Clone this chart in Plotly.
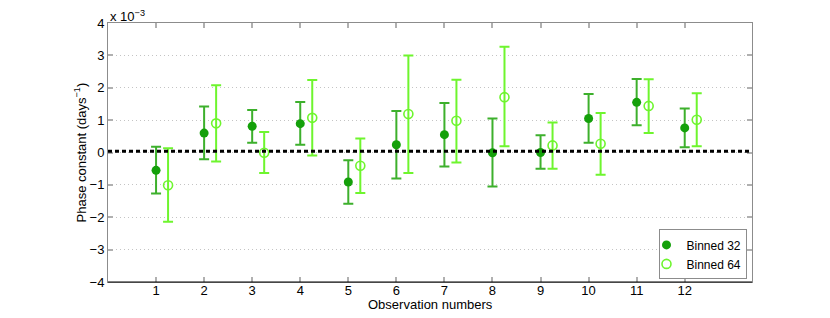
import plotly.graph_objects as go

obs = list(range(1, 13))
offset64 = 0.25
ref_line = 0.04  # x 1e-3

b32_val = [-0.55, 0.60, 0.81, 0.89, -0.91, 0.24, 0.55, -0.01, 0.00, 1.05, 1.55, 0.76]
b32_hi  = [0.18, 1.42, 1.31, 1.56, -0.24, 1.28, 1.53, 1.05, 0.53, 1.81, 2.27, 1.36]
b32_lo  = [-1.27, -0.21, 0.30, 0.24, -1.58, -0.80, -0.43, -1.05, -0.50, 0.30, 0.84, 0.16]

b64_val = [-1.01, 0.90, -0.01, 1.07, -0.41, 1.19, 0.98, 1.71, 0.22, 0.27, 1.44, 1.01]
b64_hi  = [0.13, 2.08, 0.63, 2.24, 0.43, 3.00, 2.25, 3.27, 0.93, 1.22, 2.26, 1.83]
b64_lo  = [-2.14, -0.28, -0.63, -0.09, -1.25, -0.63, -0.31, 0.19, -0.50, -0.69, 0.60, 0.19]

ytick_vals = [-4, -3, -2, -1, 0, 1, 2, 3, 4]

C32_M = "#14a00a"
C32_E = "#3db02c"
C64 = "#6ef52e"
FONT = "Liberation Sans, Arial, Helvetica, sans-serif"

fig = go.Figure()
fig.add_trace(go.Scatter(
    x=obs, y=b32_val, mode="markers", name="Binned 32",
    marker=dict(symbol="circle", size=9, color=C32_M, line=dict(width=0)),
    error_y=dict(type="data", symmetric=False,
                 array=[h - v for h, v in zip(b32_hi, b32_val)],
                 arrayminus=[v - l for v, l in zip(b32_val, b32_lo)],
                 color=C32_E, thickness=2, width=5),
))
fig.add_trace(go.Scatter(
    x=[o + offset64 for o in obs], y=b64_val, mode="markers", name="Binned 64",
    marker=dict(symbol="circle-open", size=9, color=C64, line=dict(width=1.6)),
    error_y=dict(type="data", symmetric=False,
                 array=[h - v for h, v in zip(b64_hi, b64_val)],
                 arrayminus=[v - l for v, l in zip(b64_val, b64_lo)],
                 color=C64, thickness=2, width=5),
))

fig.add_hline(y=ref_line, line=dict(color="black", width=3, dash="4px,3px"), layer="above")

# black bottom axis line
fig.add_shape(type="line", xref="paper", yref="paper", x0=0, x1=1, y0=0, y1=0,
              line=dict(color="black", width=1))

fig.update_xaxes(
    range=[0, 13.4], tickvals=obs, ticktext=[str(o) for o in obs],
    ticks="inside", ticklen=5, tickcolor="#b0b0b0", tickwidth=2,
    showline=True, linecolor="#8c8c8c", linewidth=1, mirror="allticks",
    showgrid=False, zeroline=False, automargin=False, ticklabelstandoff=-4,
    tickfont=dict(size=13, color="black"),
)
fig.update_yaxes(
    range=[-4, 4], tickvals=ytick_vals, ticktext=[str(v).replace("-", "\u2212") for v in ytick_vals],
    ticks="inside", ticklen=5, tickcolor="#b0b0b0", tickwidth=2,
    showline=True, linecolor="#8c8c8c", linewidth=1, mirror="allticks",
    showgrid=True, gridcolor="#c4c4c4", griddash="1px,3px", gridwidth=1, zeroline=False,
    automargin=False,
    tickfont=dict(size=13, color="black"),
)

fig.add_annotation(xref="paper", yref="paper", x=0, y=1, xanchor="left", yanchor="bottom",
                   yshift=-3, showarrow=False, text="x 10<sup>\u22123</sup>",
                   font=dict(size=13, color="black", family=FONT))
fig.add_annotation(xref="paper", yref="paper", x=0.5, y=0, xanchor="center", yanchor="middle",
                   yshift=-22, showarrow=False, text="Observation numbers",
                   font=dict(size=13, color="black", family=FONT))
fig.add_annotation(xref="paper", yref="paper", x=0, y=0.5, xanchor="center", yanchor="middle",
                   xshift=-28, textangle=-90, showarrow=False,
                   text="Phase constant (days<sup>\u22121</sup>)",
                   font=dict(size=13, color="black", family=FONT))

fig.update_layout(
    width=830, height=318,
    margin=dict(l=108, r=78, t=23, b=36),
    paper_bgcolor="white", plot_bgcolor="white",
    font=dict(family=FONT, size=13, color="black"),
    showlegend=True,
    legend=dict(x=0.993, y=0.01, xanchor="right", yanchor="bottom",
                bgcolor="white", bordercolor="#8c8c8c", borderwidth=1,
                font=dict(size=12), tracegroupgap=0, itemwidth=30,
                indentation=-14),
)

fig.write_html("out.html", config={"displayModeBar": False},
               post_script="document.body.style.margin='0';")
